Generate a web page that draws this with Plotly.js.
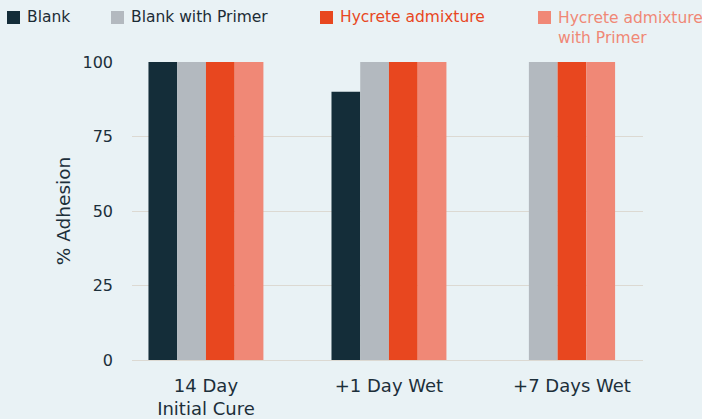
<!DOCTYPE html>
<html><head><meta charset="utf-8">
<script src="https://cdn.plot.ly/plotly-3.0.1.min.js"></script>
<style>html,body{margin:0;padding:0;background:#e9f2f5;}</style>
</head><body><div id="chart" style="width:702px;height:419px;"></div>
<script>
const categories = ["14 Day<br>Initial Cure", "+1 Day Wet", "+7 Days Wet"];
const seriesNames = ["Blank", "Blank with Primer", "Hycrete admixture", "Hycrete admixture<br>with Primer"];
const blank = [100, 90, null];
const blankPrimer = [100, 100, 100];
const hycrete = [100, 100, 100];
const hycretePrimer = [100, 100, 100];
const yTicks = [0, 25, 50, 75, 100];
const colors = ["#142d39", "#b3b9bf", "#e8471f", "#f08876"];
const legendTextColors = ["#1c2c35", "#1c2c35", "#e8471f", "#f08876"];

const FONT = '"DejaVu Sans", Verdana, sans-serif';
const TXT = '#1c2f3a';
const series = [blank, blankPrimer, hycrete, hycretePrimer];
const W = 0.157;
const idx = categories.map((c, i) => i);
// bars present per category, centred in each group
const presentCount = idx.map(i => series.filter(s => s[i] !== null).length);
const traces = series.map((vals, k) => {
  const offsets = idx.map(i => {
    let pos = 0;
    for (let j = 0; j < k; j++) if (series[j][i] !== null) pos++;
    return -presentCount[i] * W / 2 + pos * W;
  });
  return {
    type: 'bar', x: idx, y: vals, width: W, offset: offsets,
    name: seriesNames[k],
    marker: {color: colors[k], line: {width: 0}},
    hoverinfo: 'skip', showlegend: false
  };
});

// manual legend (pixel layout converted to paper coordinates)
const M = {l: 132, r: 59, t: 62, b: 59};
const PW = 702 - M.l - M.r, PH = 419 - M.t - M.b;
const px = v => (v - M.l) / PW;
const py = v => (419 - M.b - v) / PH;
const legendX = [7, 111, 320, 538];
const shapes = [], annotations = [];
seriesNames.forEach((name, k) => {
  const x0 = legendX[k];
  shapes.push({type: 'rect', xref: 'paper', yref: 'paper', x0: px(x0), x1: px(x0 + 13), y0: py(11), y1: py(24),
    fillcolor: colors[k], line: {width: 0}, layer: 'above'});
  const lines = name.split('<br>').length;
  annotations.push({xref: 'paper', yref: 'paper', x: px(x0 + 18), y: py(17 + (lines - 1) * 10.5),
    xanchor: 'left', yanchor: 'middle', align: 'left', showarrow: false, text: name,
    font: {family: FONT, size: 15.5, color: legendTextColors[k]}});
});

const layout = {
  width: 702, height: 419,
  paper_bgcolor: '#e9f2f5', plot_bgcolor: '#e9f2f5',
  margin: M,
  barmode: 'overlay',
  font: {family: FONT, color: TXT, size: 15},
  showlegend: false,
  shapes: shapes, annotations: annotations,
  xaxis: {
    tickmode: 'array', tickvals: idx, ticktext: categories, range: [-0.404, 2.388],
    showgrid: false, zeroline: false, showline: false, ticks: '', ticklabelstandoff: 13,
    tickfont: {family: FONT, size: 18, color: TXT}
  },
  yaxis: {
    range: [0, 100], tickmode: 'array', tickvals: yTicks, showgrid: true, gridcolor: '#dcd9d2', gridwidth: 1,
    zeroline: true, zerolinecolor: '#dcd9d2', zerolinewidth: 1, showline: false, ticks: '', ticklabelstandoff: 18,
    tickfont: {family: FONT, size: 16, color: TXT},
    title: {text: '% Adhesion', font: {family: FONT, size: 18.5, color: TXT}, standoff: 6}
  }
};
Plotly.newPlot('chart', traces, layout, {displayModeBar: false, staticPlot: true});
</script></body></html>
